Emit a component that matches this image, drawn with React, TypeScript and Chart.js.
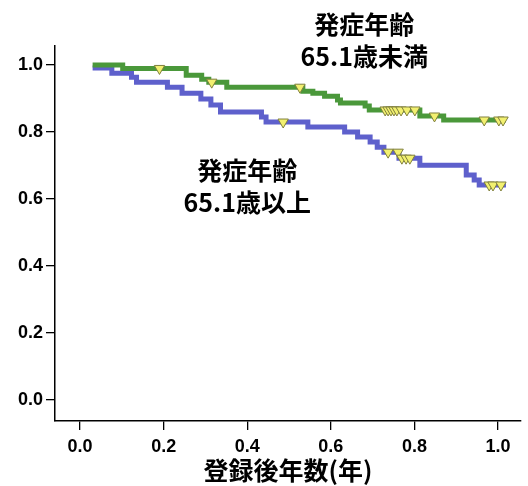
import React, { useEffect, useRef } from "react";
import { Chart, registerables } from "chart.js";

Chart.register(...registerables);

// Axis ticks
const xTickValues = [0, 0.2, 0.4, 0.6, 0.8, 1.0];
const yTickValues = [0, 0.2, 0.4, 0.6, 0.8, 1.0];

// Kaplan-Meier steps: onset age under 65.1 (green)
const youngTimes = [0.03, 0.102, 0.254, 0.291, 0.308, 0.351, 0.533, 0.557, 0.585, 0.616, 0.623, 0.682, 0.692, 0.813, 0.870, 1.019];
const youngSurv = [1.0, 0.99, 0.970, 0.958, 0.949, 0.934, 0.922, 0.916, 0.907, 0.896, 0.887, 0.878, 0.866, 0.848, 0.836, 0.836];
const youngCensored = [0.190, 0.315, 0.526, 0.730, 0.737, 0.744, 0.751, 0.758, 0.768, 0.782, 0.801, 0.848, 0.967, 1.002, 1.012];

// Kaplan-Meier steps: onset age 65.1 and over (blue)
const oldTimes = [0.03, 0.076, 0.123, 0.135, 0.209, 0.244, 0.289, 0.313, 0.336, 0.434, 0.445, 0.545, 0.633, 0.664, 0.694, 0.711, 0.727, 0.763, 0.813, 0.924, 0.943, 0.955, 1.019];
const oldSurv = [0.991, 0.976, 0.964, 0.949, 0.934, 0.916, 0.899, 0.881, 0.860, 0.845, 0.830, 0.815, 0.800, 0.785, 0.770, 0.755, 0.740, 0.722, 0.701, 0.672, 0.657, 0.642, 0.642];
const oldCensored = [0.486, 0.737, 0.761, 0.770, 0.780, 0.789, 0.979, 0.988, 1.007];

const youngLabel = ["発症年齢", "65.1歳未満"];
const oldLabel = ["発症年齢", "65.1歳以上"];
const xTitle = "登録後年数(年)";

const GREEN = "rgb(74,152,58)";
const BLUE = "rgb(94,96,204)";
const TRI_FILL = "rgb(242,240,112)";
const TRI_EDGE = "rgb(128,128,62)";

function survivalAt(times: number[], surv: number[], t: number): number {
  let s = surv[0];
  for (let i = 0; i < times.length; i++) {
    if (times[i] <= t) s = surv[i];
  }
  return s;
}

function steps(times: number[], surv: number[]) {
  return times.map((t, i) => ({ x: t, y: surv[i] }));
}

function marks(times: number[], surv: number[], censored: number[]) {
  return censored.map((t) => ({ x: t, y: survivalAt(times, surv, t) }));
}

const labelPlugin = {
  id: "groupLabels",
  afterDraw(chart: any) {
    const { ctx, scales } = chart;
    const x = scales.x;
    const y = scales.y;
    ctx.save();
    ctx.fillStyle = "#000";
    ctx.textAlign = "center";
    ctx.textBaseline = "middle";
    ctx.font = "bold 25px 'Noto Sans CJK JP'";
    const draw = (lines: string[], cx: number, cy: number) => {
      lines.forEach((l, i) => ctx.fillText(l, x.getPixelForValue(cx), y.getPixelForValue(cy) + i * 32));
    };
    draw(youngLabel, 0.68, 1.122);
    draw(oldLabel, 0.40, 0.685);
    ctx.restore();
  },
};

export default function App() {
  const ref = useRef<HTMLCanvasElement | null>(null);

  useEffect(() => {
    if (!ref.current) return;
    const tickFont = { family: "'Liberation Sans', Arial, sans-serif", size: 18, weight: "bold" as const };
    const chart = new Chart(ref.current, {
      type: "line",
      data: {
        datasets: [
          {
            type: "scatter",
            data: marks(youngTimes, youngSurv, youngCensored),
            pointStyle: "triangle",
            rotation: 180,
            pointRadius: 6,
            backgroundColor: TRI_FILL,
            borderColor: TRI_EDGE,
            borderWidth: 1,
            showLine: false,
          } as any,
          {
            type: "scatter",
            data: marks(oldTimes, oldSurv, oldCensored),
            pointStyle: "triangle",
            rotation: 180,
            pointRadius: 6,
            backgroundColor: TRI_FILL,
            borderColor: TRI_EDGE,
            borderWidth: 1,
            showLine: false,
          } as any,
          {
            data: steps(youngTimes, youngSurv),
            borderColor: GREEN,
            borderWidth: 5,
            stepped: "before",
            pointRadius: 0,
            fill: false,
            borderCapStyle: "butt",
            borderJoinStyle: "miter",
          },
          {
            data: steps(oldTimes, oldSurv),
            borderColor: BLUE,
            borderWidth: 5,
            stepped: "before",
            pointRadius: 0,
            fill: false,
            borderCapStyle: "butt",
            borderJoinStyle: "miter",
          },
        ],
      },
      options: {
        animation: false,
        responsive: true,
        maintainAspectRatio: false,
        devicePixelRatio: 1,
        layout: { padding: { top: 46, right: 3, left: 0, bottom: 0 } },
        plugins: {
          legend: { display: false },
          tooltip: { enabled: false },
        },
        scales: {
          x: {
            type: "linear",
            min: -0.06,
            max: 1.055,
            afterBuildTicks: (s: any) => {
              s.ticks = xTickValues.map((v) => ({ value: v }));
            },
            afterFit: (s: any) => {
              s.height = 65;
            },
            ticks: {
              color: "#000",
              font: tickFont,
              padding: 6,
              maxRotation: 0,
              autoSkip: false,
              callback: (v: any) => Number(v).toFixed(1),
            },
            grid: { drawOnChartArea: false, drawTicks: true, tickLength: 9, color: "#000", lineWidth: 1.3 },
            border: { display: true, color: "#000", width: 1.5 },
            title: {
              display: true,
              text: xTitle,
              color: "#000",
              font: { family: "'Noto Sans CJK JP', sans-serif", size: 25, weight: "bold" },
              padding: { top: 0, bottom: 1 },
            },
          },
          y: {
            type: "linear",
            min: -0.0627,
            max: 1.057,
            afterBuildTicks: (s: any) => {
              s.ticks = yTickValues.map((v) => ({ value: v }));
            },
            afterFit: (s: any) => {
              s.width = 55;
            },
            ticks: {
              color: "#000",
              font: tickFont,
              padding: 3,
              autoSkip: false,
              callback: (v: any) => Number(v).toFixed(1),
            },
            grid: { drawOnChartArea: false, drawTicks: true, tickLength: 9, color: "#000", lineWidth: 1.3 },
            border: { display: true, color: "#000", width: 1.5 },
          },
        },
      },
      plugins: [labelPlugin],
    });
    return () => chart.destroy();
  }, []);

  return (
    <div style={{ position: "fixed", left: 0, top: 0, width: 528, height: 486, background: "#fff" }}>
      <canvas ref={ref} />
    </div>
  );
}
